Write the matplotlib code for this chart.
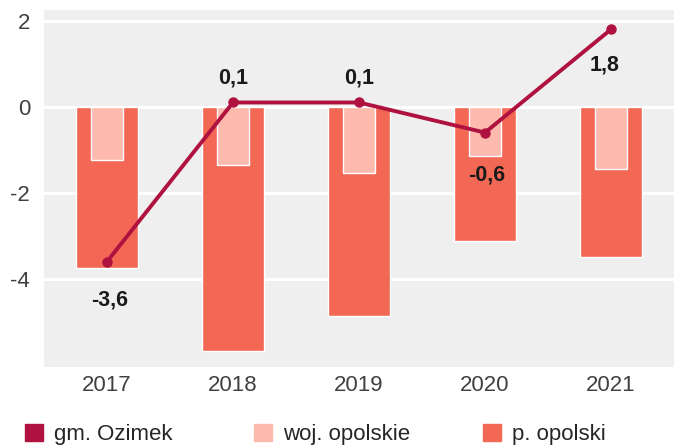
import matplotlib.pyplot as plt
import numpy as np

plt.rcParams['font.family'] = ['Liberation Sans', 'DejaVu Sans']

# dane
lata = ['2017', '2018', '2019', '2020', '2021']
gm_ozimek = [-3.6, 0.1, 0.1, -0.6, 1.8]
woj_opolskie = [-1.23, -1.35, -1.53, -1.14, -1.44]
p_opolski = [-3.75, -5.67, -4.86, -3.13, -3.5]
etykiety = ['-3,6', '0,1', '0,1', '-0,6', '1,8']

c_gm = '#B0123F'
c_woj = '#FDBAAD'
c_pow = '#F26855'

fig = plt.figure(figsize=(6.81, 4.48), dpi=100)
ax = fig.add_axes([44 / 681, 1 - 367 / 448, 630 / 681, 357 / 448])
ax.set_facecolor('#EFEFEF')

x = np.arange(len(lata))
ax.bar(x, p_opolski, width=0.49, color=c_pow, edgecolor='white', linewidth=1, zorder=2)
ax.bar(x, woj_opolskie, width=0.26, color=c_woj, edgecolor='white', linewidth=1, zorder=3)
ax.plot(x, gm_ozimek, color=c_gm, linewidth=2.8, marker='o', markersize=6.5, zorder=4)

# etykiety wartości (przesunięcie w pikselach: + w górę, - w dół)
przes = [(3, -38), (0, 24), (0, 24), (2, -42), (-6, -36)]
for xi, yi, t, (dx, dy) in zip(x, gm_ozimek, etykiety, przes):
    ax.annotate(t, (xi, yi), xytext=(dx, dy), textcoords='offset pixels',
                ha='center', va='center', fontsize=15.5, fontweight='bold',
                color='#1a1a1a', zorder=5)

ax.set_xlim(-0.5, 4.5)
ax.set_ylim(-6.05, 2.25)
ax.set_yticks([-4, -2, 0, 2])
ax.set_yticklabels(['-4', '-2', '0', '2'])
ax.set_xticks(x)
ax.set_xticklabels(lata)
ax.grid(axis='y', color='white', linewidth=2.2, zorder=1)
ax.set_axisbelow(True)
ax.tick_params(length=0, labelsize=16, colors='#404040', pad=6)
ax.tick_params(axis='y', pad=10)
for s in ax.spines.values():
    s.set_visible(False)

# legenda - trzy kolumny o stałym odstępie
nazwy = ['gm. Ozimek', 'woj. opolskie', 'p. opolski']
for i, (c, n) in enumerate(zip((c_gm, c_woj, c_pow), nazwy)):
    fig.legend([plt.Rectangle((0, 0), 1, 1, color=c)], [n],
               loc='center left', bbox_to_anchor=((14 + 229 * i) / 681, 0.031),
               frameon=False, borderpad=0, fontsize=16, handlelength=0.8,
               handleheight=0.8, handletextpad=0.5, labelcolor='#262626')

fig.savefig('out.png', dpi=100, facecolor='white')
